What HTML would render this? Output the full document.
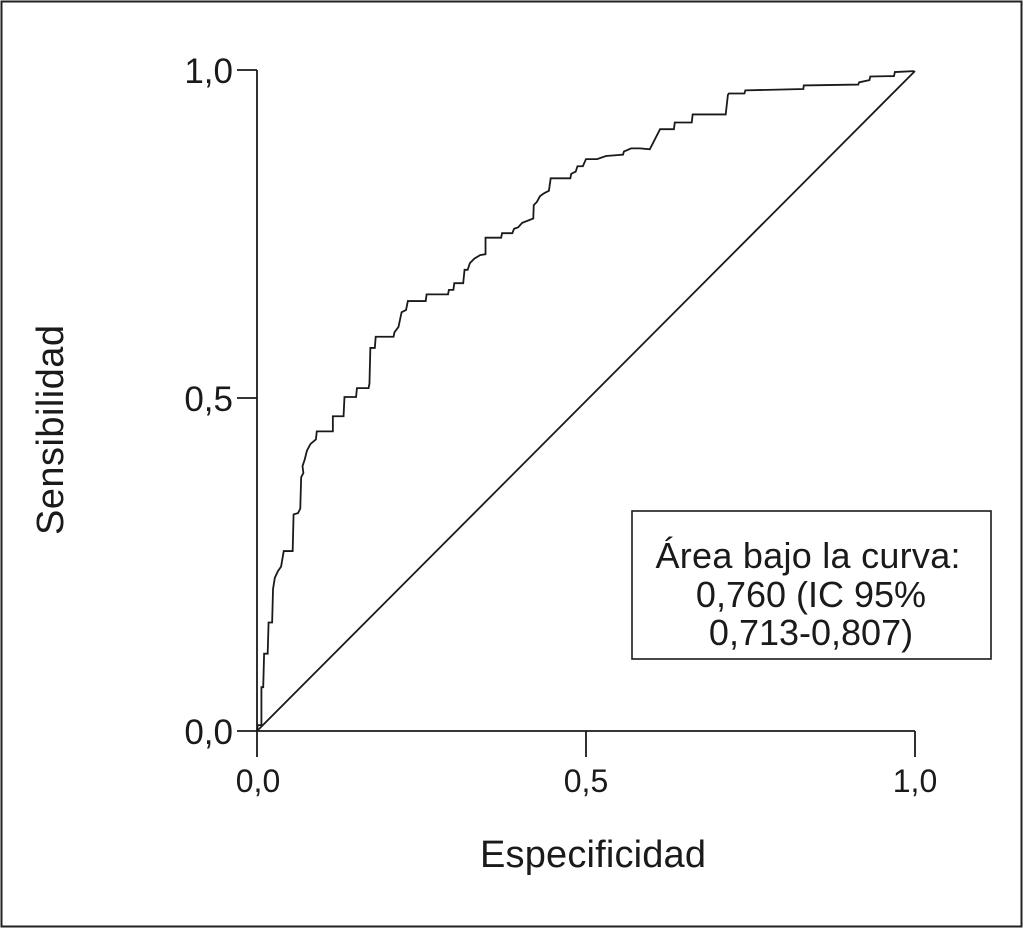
<!DOCTYPE html>
<html><head><meta charset="utf-8"><style>
html,body{margin:0;padding:0;background:#fff;}
svg{display:block;}
text{font-family:"Liberation Sans",Arial,sans-serif;fill:#1a1a1a;}
</style></head><body>
<svg width="1024" height="929" viewBox="0 0 1024 929" xmlns="http://www.w3.org/2000/svg">
<rect x="1.5" y="1.5" width="1020" height="925" fill="#fff" stroke="#222" stroke-width="2"/>
<g stroke="#1a1a1a" stroke-width="1.8" fill="none">
<line x1="257" y1="70" x2="257" y2="731"/>
<line x1="257" y1="731" x2="915" y2="731"/>
<line x1="237" y1="70" x2="257" y2="70"/>
<line x1="237" y1="398" x2="257" y2="398"/>
<line x1="237" y1="731" x2="257" y2="731"/>
<line x1="257" y1="731" x2="257" y2="757"/>
<line x1="586" y1="731" x2="586" y2="757"/>
<line x1="915" y1="731" x2="915" y2="757"/>
<line x1="257" y1="731" x2="915" y2="71"/>
<rect x="632" y="511" width="359" height="148" stroke-width="1.6"/>
<g transform="translate(240,60) scale(0.4464)">
<polyline vector-effect="non-scaling-stroke" stroke-width="1.8" points="38,1502 40,1490 48,1490 48,1405 52,1405 54,1330 62,1330 64,1260 72,1260 74,1185 78,1160 85,1145 92,1135 98,1100 118,1100 120,1018 130,1015 135,1005 137,935 142,925 140,910 145,895 150,875 158,860 170,850 172,832 208,832 208,798 232,798 234,755 260,755 262,735 288,735 290,725 292,645 302,645 304,620 344,620 346,610 355,598 362,565 372,560 376,540 416,540 418,525 466,525 468,515 478,515 480,500 500,500 503,470 510,470 515,455 525,445 538,437 550,435 550,398 585,398 587,388 610,388 614,378 623,375 632,365 657,355 658,325 665,318 672,305 682,298 692,293 696,265 740,265 742,255 752,250 756,238 768,238 775,222 800,222 820,215 858,212 860,205 876,198 896,198 918,200 941,155 972,155 974,140 1012,140 1014,122 1088,122 1093,78 1095,75 1130,75 1132,68 1262,65 1263,57 1385,55 1387,50 1410,45 1412,37 1465,36 1467,27 1510,25"/>
</g>
</g>
<g font-size="35">
<text x="233" y="83" text-anchor="end">1,0</text>
<text x="233" y="411" text-anchor="end">0,5</text>
<text x="233" y="744" text-anchor="end">0,0</text>
<text x="258" y="792" text-anchor="middle" font-size="32">0,0</text>
<text x="586" y="792" text-anchor="middle" font-size="32">0,5</text>
<text x="915" y="792" text-anchor="middle" font-size="32">1,0</text>
<text x="593" y="867" text-anchor="middle" font-size="38" textLength="226">Especificidad</text>
<text transform="translate(63,430) rotate(-90)" text-anchor="middle" font-size="38" textLength="210">Sensibilidad</text>
<text x="808" y="568" text-anchor="middle" font-size="36" textLength="305">Área bajo la curva:</text>
<text x="811" y="607" text-anchor="middle" font-size="36">0,760 (IC 95%</text>
<text x="811" y="645" text-anchor="middle" font-size="36">0,713-0,807)</text>
</g>
</svg>
</body></html>
